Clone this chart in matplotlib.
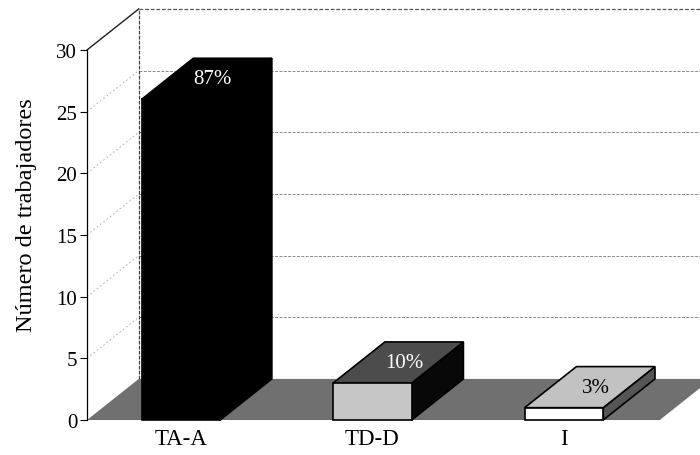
import matplotlib.pyplot as plt
from matplotlib.patches import Polygon

plt.rcParams.update({'font.family': 'Liberation Serif'})

categories = ['TA-A', 'TD-D', 'I']
workers = [26, 3, 1]
pct_labels = ['87%', '10%', '3%']
y_ticks = [0, 5, 10, 15, 20, 25, 30]

# face colours per bar: front, top, side, label
front_cols = ['black', '#c6c6c6', 'white']
top_cols = ['black', '#4c4c4c', '#c2c2c2']
side_cols = ['black', '#080808', '#555555']
text_cols = ['white', 'white', 'black']

# pseudo 3d depth, in data units
DX = 0.27
DY = 3.33
W = 0.41
X0 = -0.49
XMAX = 2.75
YTOP = 30

fig = plt.figure(figsize=(7, 4.56), dpi=100)
ax = fig.add_axes([87 / 700, 35 / 456, 613 / 700, 370 / 456])
ax.set_xlim(X0, 2.71)
ax.set_ylim(0, YTOP)

def poly(pts, fc, ec='none', lw=0.8, z=1, ls='-'):
    p = Polygon(pts, closed=True, facecolor=fc, edgecolor=ec, lw=lw,
                zorder=z, clip_on=False, linestyle=ls)
    ax.add_patch(p)
    return p

# walls
poly([(X0, 0), (X0, YTOP), (X0 + DX, YTOP + DY), (X0 + DX, DY)], 'white', z=0)
poly([(X0 + DX, DY), (XMAX + DX, DY), (XMAX + DX, YTOP + DY), (X0 + DX, YTOP + DY)],
     'white', z=0)

for v in y_ticks[1:]:
    ax.plot([X0, X0 + DX], [v, v + DY], color='#a5a5a5', lw=0.6,
            ls=(0, (2, 3)), clip_on=False, zorder=0.5)
    ax.plot([X0 + DX, XMAX + DX], [v + DY, v + DY], color='#555555' if v == YTOP else '#8a8a8a',
            lw=0.9 if v == YTOP else 0.7, ls=(0, (3, 1.5)), clip_on=False, zorder=0.5)
ax.plot([X0 + DX, X0 + DX], [DY, YTOP + DY], color='#444444', lw=0.9,
        ls=(0, (3, 1)), clip_on=False, zorder=0.6)
ax.plot([X0, X0 + DX], [YTOP, YTOP + DY], color='#222222', lw=1.0,
        clip_on=False, zorder=0.6)

# floor
floor_end = 2.5
poly([(X0, 0), (floor_end, 0), (floor_end + DX, DY), (X0 + DX, DY)], '#707070', z=0.7)
ax.plot([X0, floor_end], [0, 0], color='#333333', lw=0.8, zorder=0.8)

# bars
for i, v in enumerate(workers):
    l, r = i - W / 2, i + W / 2
    poly([(r, 0), (r + DX, DY), (r + DX, v + DY), (r, v)], side_cols[i], 'black', 1.2, 2)
    poly([(l, v), (r, v), (r + DX, v + DY), (l + DX, v + DY)], top_cols[i], 'black', 1.2, 2)
    poly([(l, 0), (r, 0), (r, v), (l, v)], front_cols[i], 'black', 1.2, 2)
    ax.text(i + DX / 2 + 0.03, v + DY / 2, pct_labels[i], color=text_cols[i],
            fontsize=15, ha='center', va='center', zorder=3)

ax.set_yticks(y_ticks)
ax.set_xticks(range(len(categories)), categories)
ax.tick_params(axis='y', direction='out', length=5, width=0.8, labelsize=15, pad=2)
ax.tick_params(axis='x', length=0, labelsize=16.5, pad=6)
ax.set_ylabel('Número de trabajadores', fontsize=17.5)
ax.yaxis.set_label_coords(-0.082, 0.557)
for s in ['top', 'right', 'bottom']:
    ax.spines[s].set_visible(False)
ax.spines['left'].set_linewidth(0.9)
ax.spines['left'].set_zorder(3)
ax.patch.set_visible(False)

fig.savefig('out.png', dpi=100)
